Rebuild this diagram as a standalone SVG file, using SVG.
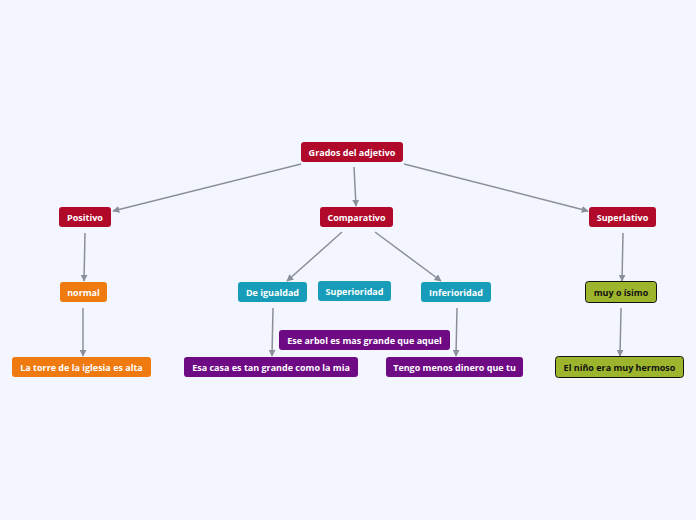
<svg xmlns="http://www.w3.org/2000/svg" width="696" height="520" viewBox="0 0 696 520">
<style>
text{font-family:"Open Sans","DejaVu Sans",sans-serif;font-weight:bold;font-size:9px;text-anchor:middle;dominant-baseline:central}
.red rect{fill:#b0092a}
.org rect{fill:#ef7a10}
.teal rect{fill:#179db9}
.pur rect{fill:#6e0a84}
.olv rect{fill:#9db52c;stroke:#111;stroke-width:1}
.red text,.org text,.teal text,.pur text{fill:#fff}
.olv text{fill:#111}
#connectors line{stroke:#8a8f99;stroke-width:1.5;fill:none;marker-end:url(#ah)}
</style>
<defs>
<marker id="ah" viewBox="0 0 10 10" refX="9" refY="5" markerWidth="7" markerHeight="7" orient="auto" markerUnits="userSpaceOnUse"><path d="M0,0 L10,5 L0,10 z" fill="#8a8f99"/></marker>
</defs>
<rect width="696" height="520" fill="#f3f6fe"/>
<g id="connectors">
<line x1="301" y1="164" x2="113" y2="211"/>
<line x1="354" y1="167" x2="356" y2="206"/>
<line x1="404" y1="164" x2="588" y2="211"/>
<line x1="85" y1="233" x2="84" y2="281"/>
<line x1="83" y1="308" x2="83" y2="356"/>
<line x1="342" y1="232" x2="287" y2="281"/>
<line x1="375" y1="232" x2="441" y2="281"/>
<line x1="273" y1="308" x2="272" y2="356"/>
<line x1="457" y1="308" x2="456" y2="356"/>
<line x1="623" y1="233" x2="622" y2="281"/>
<line x1="621" y1="308" x2="620" y2="356"/>
</g>
<g id="grados" class="red"><rect x="301" y="142" width="102" height="20" rx="3"/><text x="352" y="152">Grados del adjetivo</text></g>
<g id="positivo" class="red"><rect x="59" y="207" width="52" height="20" rx="3"/><text x="85" y="217">Positivo</text></g>
<g id="comparativo" class="red"><rect x="320" y="207" width="73" height="20" rx="3"/><text x="356.5" y="217">Comparativo</text></g>
<g id="superlativo" class="red"><rect x="589" y="207" width="67" height="20" rx="3"/><text x="622.5" y="217">Superlativo</text></g>
<g id="normal" class="org"><rect x="60" y="282" width="47" height="20" rx="3"/><text x="83.5" y="292">normal</text></g>
<g id="torre" class="org"><rect x="12" y="357" width="139" height="20" rx="3"/><text x="81.5" y="367">La torre de la iglesia es alta</text></g>
<g id="igualdad" class="teal"><rect x="238" y="282" width="69" height="20" rx="3"/><text x="272.5" y="292">De igualdad</text></g>
<g id="superioridad" class="teal"><rect x="318" y="281" width="73" height="20" rx="3"/><text x="354.5" y="291">Superioridad</text></g>
<g id="inferioridad" class="teal"><rect x="421" y="282" width="70" height="20" rx="3"/><text x="456" y="292">Inferioridad</text></g>
<g id="arbol" class="pur"><rect x="279" y="330" width="171" height="20" rx="3"/><text x="364.5" y="340">Ese arbol es mas grande que aquel</text></g>
<g id="casa" class="pur"><rect x="184" y="357" width="174" height="20" rx="3"/><text x="271" y="367">Esa casa es tan grande como la mia</text></g>
<g id="tengo" class="pur"><rect x="386" y="357" width="137" height="20" rx="3"/><text x="454.5" y="367">Tengo menos dinero que tu</text></g>
<g id="muy" class="olv"><rect x="585.5" y="281.5" width="71" height="21" rx="3"/><text x="621" y="292">muy o ísimo</text></g>
<g id="nino" class="olv"><rect x="555.5" y="356.5" width="128" height="21" rx="3"/><text x="619.5" y="367">El niño era muy hermoso</text></g>
</svg>
